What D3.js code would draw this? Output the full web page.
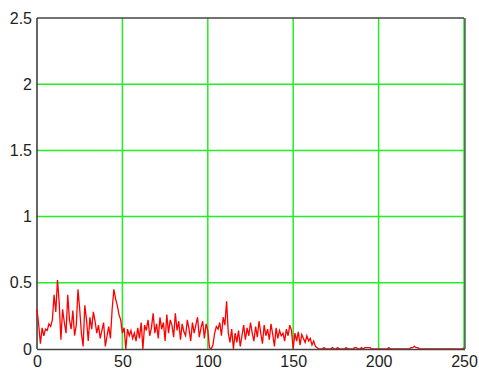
<!DOCTYPE html>
<html><head><meta charset="utf-8">
<script src="https://cdn.jsdelivr.net/npm/d3@7"></script>
<style>body{margin:0;background:#fff}svg{display:block}</style>
</head><body>
<script>
const xTicks = [0, 50, 100, 150, 200, 250];
const yTicks = [0, 0.5, 1, 1.5, 2, 2.5];
const seg1 = [0.30,0.18,0.04,0.16,0.10,0.15,0.14,0.19,0.17,0.22,0.41,0.28,0.52,0.35,0.07,0.30,0.20,0.12,0.41,0.22,0.15,0.29,0.10,0.18,0.45,0.30,0.12,0.02,0.33,0.22];
const seg2 = [0.06,0.24,0.15,0.28,0.21,0.12,0.18,0.08,0.14,0.20,0.02,0.10,0.17,0.08,0.30,0.45,0.38,0.33,0.26,0.22,0.12,0.16,0.0,0.15,0.10,0.14,0.08];
const seg3 = [0.12,0.06,0.16,0.08,0.20,0.0,0.18,0.14,0.22,0.10,0.16,0.27,0.12,0.19,0.08,0.24,0.15,0.20,0.06,0.26,0.12,0.22,0.18,0.09,0.27,0.14,0.21,0.07,0.19,0.13];
const seg4 = [0.10,0.22,0.15,0.06,0.20,0.12,0.18,0.24,0.09,0.16,0.21,0.08,0.19,0.14,0.01,0.0,0.03,0.12,0.17,0.15,0.20,0.10,0.24,0.18,0.36,0.12,0.05,0.15,0.0];
const seg5 = [0.12,0.05,0.14,0.02,0.10,0.18,0.07,0.16,0.10,0.20,0.12,0.06,0.17,0.09,0.21,0.12,0.04,0.18,0.10,0.15,0.07,0.19,0.11,0.02,0.16,0.08,0.14,0.10,0.12,0.06];
const seg6 = [0.15,0.10,0.18,0.14,0.0,0.12,0.06,0.13,0.03,0.11,0.08,0.05,0.10,0.06,0.08,0.03,0.06,0.02,0.01,0.0];
const seg7 = [0,0,0.01,0,0,0,0,0.01,0,0,0.01,0,0,0,0,0.01,0,0,0,0,0.01,0.01,0,0,0.01,0,0.01,0.01,0.01,0.01,
0,0,0,0,0,0,0,0,0,0,0.01,0,0,0,0,0,0,0,0,0,0,0,0,0.01,0.01,0.02,0.01,0.01,0,0,
0,0,0,0,0,0,0,0,0,0,0,0,0,0,0,0,0,0,0,0,0,0,0,0,0.01];
const values = [...seg1, ...seg2, ...seg3, ...seg4, ...seg5, ...seg6, ...seg7];

const W = 479, H = 373;
const L = 37, R = 464, T = 18, B = 349;
const svg = d3.select("body").append("svg").attr("width", W).attr("height", H);
const x = d3.scaleLinear().domain([0, 250]).range([L, R]);
const y = d3.scaleLinear().domain([0, 2.5]).range([B, T]);

// grid
svg.append("g").selectAll("line.v").data(xTicks.slice(1)).join("line")
  .attr("x1", d => x(d)).attr("x2", d => x(d)).attr("y1", T).attr("y2", B)
  .attr("stroke", "#22ee22").attr("stroke-width", 1.5);
svg.append("g").selectAll("line.h").data(yTicks.slice(1, -1)).join("line")
  .attr("x1", L).attr("x2", R).attr("y1", d => y(d)).attr("y2", d => y(d))
  .attr("stroke", "#22ee22").attr("stroke-width", 1.5);

// frame
svg.append("line").attr("x1", L).attr("x2", R).attr("y1", T).attr("y2", T).attr("stroke", "#444").attr("stroke-width", 1.5);
svg.append("line").attr("x1", L).attr("x2", L).attr("y1", T).attr("y2", B).attr("stroke", "#333").attr("stroke-width", 1.5);
svg.append("line").attr("x1", R + 1).attr("x2", R + 1).attr("y1", T).attr("y2", B).attr("stroke", "#333").attr("stroke-width", 1.2);

// data line
const line = d3.line().x((d, i) => x(i)).y(d => y(d));
svg.append("path").datum(values).attr("d", line)
  .attr("fill", "none").attr("stroke", "#ff0000").attr("stroke-width", 1.3);

svg.append("line").attr("x1", L).attr("x2", R + 1).attr("y1", B + 0.5).attr("y2", B + 0.5).attr("stroke", "#444").attr("stroke-width", 1.5);

// axes labels
const xAxis = d3.axisBottom(x).tickValues(xTicks).tickSize(0).tickPadding(7).tickFormat(d3.format("d"));
const gx = svg.append("g").attr("transform", `translate(0,${B})`).call(xAxis);
gx.select(".domain").remove();
const yAxis = d3.axisLeft(y).tickValues(yTicks).tickSize(0).tickPadding(5).tickFormat(d => String(d));
const gy = svg.append("g").attr("transform", `translate(${L},0)`).call(yAxis);
gy.select(".domain").remove();
svg.selectAll(".tick text").attr("font-family", "Liberation Sans, Arial, sans-serif").attr("font-size", 16).attr("fill", "#222");
</script>
</body></html>
